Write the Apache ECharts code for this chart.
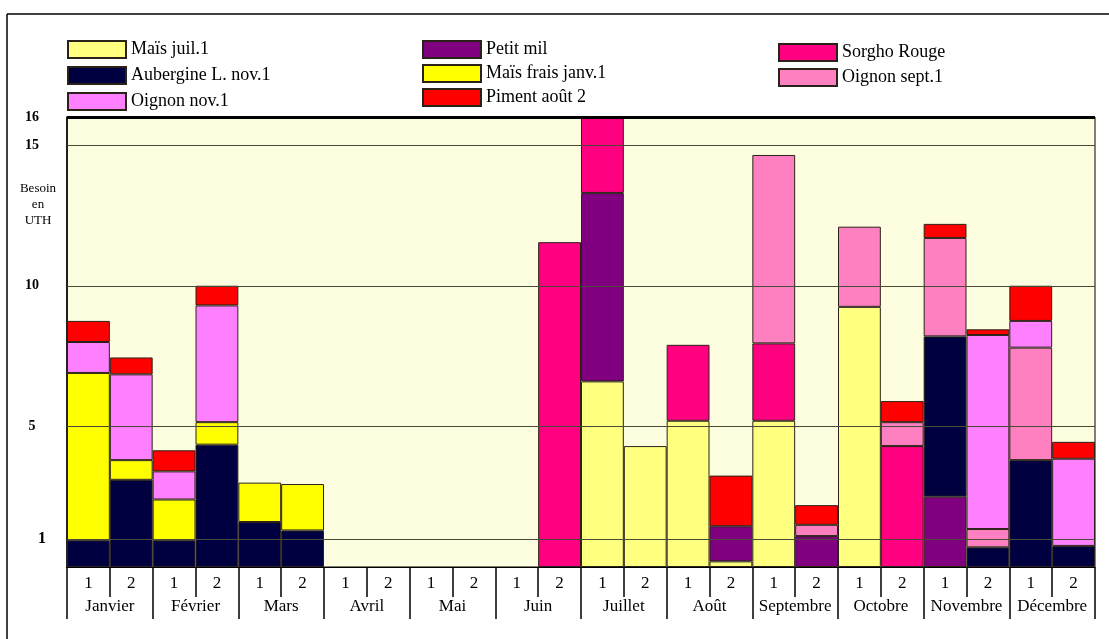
<!DOCTYPE html>
<html>
<head>
<meta charset="utf-8">
<script src="https://cdn.jsdelivr.net/npm/echarts@6/dist/echarts.min.js"></script>
<style>
html,body{margin:0;padding:0;background:#fff;}
#chart{width:1109px;height:639px;}
</style>
</head>
<body>
<div id="chart"></div>
<script>
// ---- Data ----
var subLabels = ['1','2','1','2','1','2','1','2','1','2','1','2','1','2','1','2','1','2','1','2','1','2','1','2'];
var months = ['Janvier','Février','Mars','Avril','Mai','Juin','Juillet','Août','Septembre','Octobre','Novembre','Décembre'];
var yTicks = [1, 5, 10, 15, 16];

var maisJuil   = [0,0,0,0,0,0,0,0,0,0,0,0, 6.6,4.3,5.2,0.2,5.2,0,9.25,0,0,0,0,0];
var petitMil   = [0,0,0,0,0,0,0,0,0,0,0,0, 6.7,0,0,1.25,0,1.1,0,0,2.5,0,0,0];
var aubergine  = [0.95,3.1,0.95,4.35,1.6,1.3,0,0,0,0,0,0, 0,0,0,0,0,0,0,0,5.7,0.7,3.8,0.75];
var maisFrais  = [5.95,0.7,1.45,0.8,1.4,1.65,0,0,0,0,0,0, 0,0,0,0,0,0,0,0,0,0,0,0];
var sorgho     = [0,0,0,0,0,0,0,0,0,0,0,11.55, 2.7,0,2.7,0,2.75,0,0,4.3,0,0,0,0];
var oignonSept = [0,0,0,0,0,0,0,0,0,0,0,0, 0,0,0,0,6.7,0.4,2.85,0.85,3.5,0.65,4.0,0];
var oignonNov  = [1.1,3.05,1.0,4.15,0,0,0,0,0,0,0,0, 0,0,0,0,0,0,0,0,0,6.9,0.95,3.1];
var piment     = [0.75,0.6,0.75,0.7,0,0,0,0,0,0,0,0, 0,0,0,1.8,0,0.7,0,0.75,0.5,0.2,1.25,0.6];

var seriesDefs = [
  {name:'Maïs juil.1', data:maisJuil, color:'#FFFF80'},
  {name:'Petit mil', data:petitMil, color:'#800080'},
  {name:'Aubergine L. nov.1', data:aubergine, color:'#000040'},
  {name:'Maïs frais janv.1', data:maisFrais, color:'#FFFF00'},
  {name:'Sorgho Rouge', data:sorgho, color:'#FF0080'},
  {name:'Oignon sept.1', data:oignonSept, color:'#FF80C0'},
  {name:'Oignon nov.1', data:oignonNov, color:'#FF80FF'},
  {name:'Piment août 2', data:piment, color:'#FF0000'}
];

var FONT = 'Liberation Serif';
var series = seriesDefs.map(function(s){
  return {
    name: s.name, type:'bar', stack:'total', barCategoryGap:'0%',
    xAxisIndex:0, yAxisIndex:0,
    itemStyle:{color:s.color, borderColor:'#2a2218', borderWidth:1},
    data: s.data.map(function(v){ return v === 0 ? null : v; })
  };
});
series.push({
  name:'grid', type:'line', data:[], z:10, silent:true,
  markLine:{
    silent:true, symbol:['none','none'], label:{show:false},
    data:[
      {yAxis:1, lineStyle:{color:'#4a4a38', width:1, type:'solid'}},
      {yAxis:5, lineStyle:{color:'#4a4a38', width:1, type:'solid'}},
      {yAxis:10, lineStyle:{color:'#4a4a38', width:1, type:'solid'}},
      {yAxis:15, lineStyle:{color:'#4a4a38', width:1, type:'solid'}},
      {yAxis:16, lineStyle:{color:'#000', width:3, type:'solid'}}
    ]
  }
});

var legendText = {fontFamily:FONT, fontSize:18, color:'#000'};
var chart = echarts.init(document.getElementById('chart'));
chart.setOption({
  animation:false,
  backgroundColor:'#fff',
  grid:{left:67, right:14, top:117, bottom:72, show:true, backgroundColor:'#FDFDE0', borderColor:'#000', borderWidth:1},
  legend:[
    {data:['Maïs juil.1','Aubergine L. nov.1','Oignon nov.1'], orient:'vertical', left:67, top:40, padding:0, itemWidth:58, itemHeight:17, itemGap:7, textStyle:legendText, selectedMode:false, icon:'rect'},
    {data:['Petit mil','Maïs frais janv.1','Piment août 2'], orient:'vertical', left:422, top:40, padding:0, itemWidth:58, itemHeight:17, itemGap:5, textStyle:legendText, selectedMode:false, icon:'rect'},
    {data:['Sorgho Rouge','Oignon sept.1'], orient:'vertical', left:778, top:43, padding:0, itemWidth:58, itemHeight:17, itemGap:6, textStyle:legendText, selectedMode:false, icon:'rect'}
  ],
  xAxis:[
    {type:'category', data:subLabels, gridIndex:0, position:'bottom',
     axisLine:{lineStyle:{color:'#000', width:1}},
     axisTick:{show:true, length:30, interval:0, lineStyle:{color:'#000', width:1.5}},
     axisLabel:{interval:0, margin:8, fontFamily:FONT, fontSize:17, color:'#000'}},
    {type:'category', data:months, gridIndex:0, position:'bottom', offset:30,
     axisLine:{show:false},
     axisTick:{show:true, length:22, interval:0, lineStyle:{color:'#000', width:1.5}},
     axisLabel:{interval:0, margin:1, fontFamily:FONT, fontSize:17, color:'#000'}}
  ],
  yAxis:{type:'value', min:0, max:16, interval:1,
    splitLine:{show:false},
    axisLine:{show:true, lineStyle:{color:'#000', width:1.5}},
    axisTick:{show:false},
    axisLabel:{margin:35, align:'center', fontFamily:FONT, fontSize:14, fontWeight:'bold', color:'#000',
      formatter:function(v){
        if (yTicks.indexOf(v) < 0) return '';
        return v === 1 ? '{s|1}' : String(v);
      },
      rich:{s:{padding:[0,0,0,20], fontFamily:FONT, fontSize:16, color:'#000'}}
    }
  },
  graphic:[
    {type:'line', shape:{x1:7, y1:14, x2:1109, y2:14}, style:{stroke:'#000', lineWidth:1.5}},
    {type:'line', shape:{x1:7, y1:14, x2:7, y2:639}, style:{stroke:'#000', lineWidth:1.5}},
    {type:'text', x:38, y:181, style:{text:'Besoin\nen\nUTH', fill:'#000', font:'13px "Liberation Serif"', align:'center', verticalAlign:'top', lineHeight:16}}
  ],
  series:series
});
</script>
</body>
</html>
